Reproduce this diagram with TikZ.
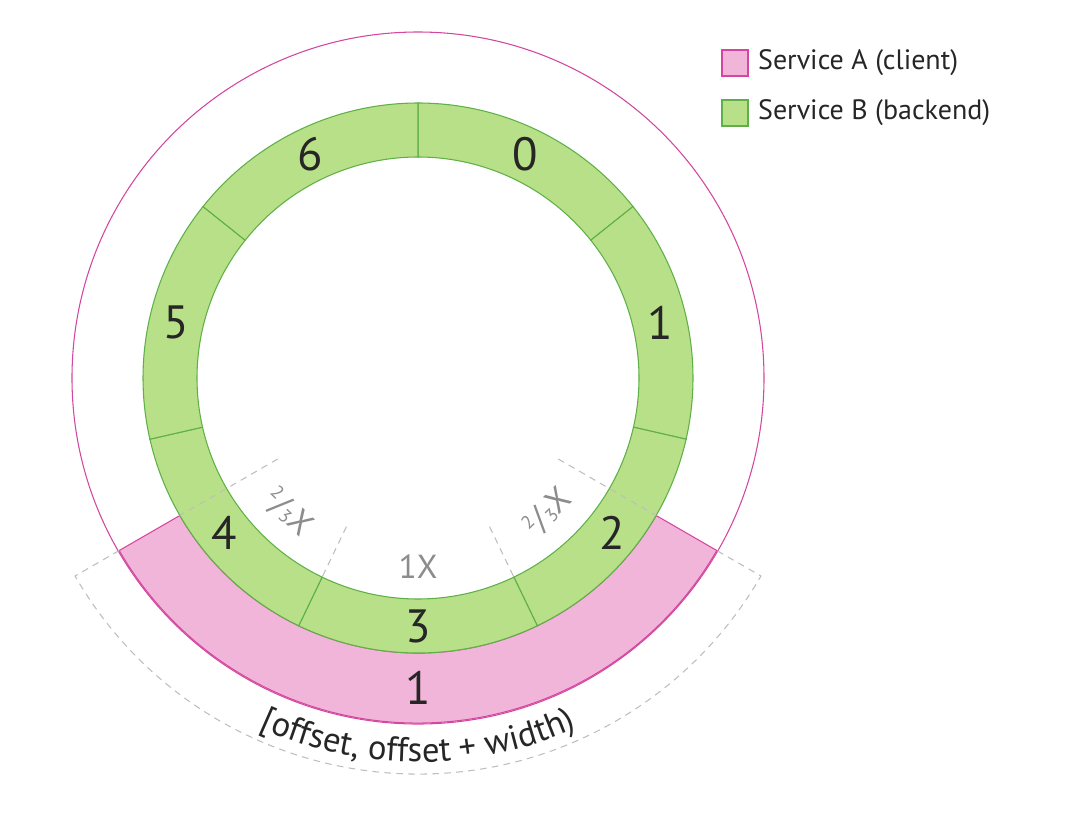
\documentclass[tikz,border=0pt]{standalone}
\usepackage{fontspec}
\setmainfont{PT Sans}
\usetikzlibrary{positioning,decorations.text}
\definecolor{clientfill}{HTML}{F2B5DA}
\definecolor{clientline}{HTML}{D4479F}
\definecolor{backendfill}{HTML}{B8E088}
\definecolor{backendline}{HTML}{5FB048}
\definecolor{guideline}{HTML}{BEBEBE}
\definecolor{ratiogray}{HTML}{8C8C8C}
\newcommand{\twothirds}{\raisebox{.6ex}{\fontsize{14}{14}\selectfont 2}/\raisebox{-.1ex}{\fontsize{14}{14}\selectfont 3}}

\begin{document}
\begin{tikzpicture}[x=0.75pt,y=0.75pt,
  ring/.style={fill=backendfill,draw=backendline,line width=0.8pt},
  band/.style={fill=clientfill,draw=clientline,line width=0.8pt},
  guide/.style={draw=guideline,line width=0.8pt,dash pattern=on 5pt off 4pt},
  digit/.style={font=\fontsize{35}{40}\selectfont,text=black!85},
  ratio/.style={font=\fontsize{25}{28}\selectfont,text=ratiogray},
  keybox/.style={minimum size=19.5pt,inner sep=0pt,line width=0.8pt},
  keytext/.style={font=\fontsize{21}{24}\selectfont,text=black!85,inner sep=0pt}]

\useasboundingbox (-418,378) rectangle (662,-441);

\draw[clientline,line width=0.8pt] (0,0) circle (346);
\draw[band] (-150:275) arc[start angle=-150,end angle=-30,radius=275] -- (-30:345) arc[start angle=-30,end angle=-150,radius=345] -- cycle;
\node[digit] (slot) at (-90:310) {1};

\foreach \i in {0,...,6}{
  \pgfmathsetmacro{\a}{90-\i*360/7}
  \pgfmathsetmacro{\b}{\a-360/7}
  \draw[ring] (\a:221) -- (\a:275) arc[start angle=\a,end angle=\b,radius=275] -- (\b:221) arc[start angle=\b,end angle=\a,radius=221] -- cycle;
  \node[digit] (seg\i) at ({(\a+\b)/2}:248) {\i};
}

\draw[guide] (-150:162) -- (-150:275);
\draw[guide] (-30:162) -- (-30:275);
\draw[guide] (-115.71:165) -- (-115.71:221);
\draw[guide] (-64.29:165) -- (-64.29:221);
\draw[guide] (-150:345) -- (-150:396) arc[start angle=-150,end angle=-30,radius=396] -- (-30:345);

\node[ratio,rotate=-44] (ratioL) at (-134:187) {\twothirds X};
\node[ratio] (ratioM) at (-90:189) {1X};
\node[ratio,rotate=44] (ratioR) at (-46:187) {\twothirds X};

\path[decorate,decoration={text along path,text align=center,
  text={|\fontsize{26}{30}\selectfont\color{black!85}|[offset, offset + width)}}]
  (-125:384) arc[start angle=-125,end angle=-55,radius=384];

\node[keybox,fill=clientfill,draw=clientline] (keyA) at (317,315) {};
\node[keytext,right=7pt of keyA] (labelA) {Service A (client)};
\node[keybox,fill=backendfill,draw=backendline] (keyB) at (317,265) {};
\node[keytext,right=7pt of keyB] (labelB) {Service B (backend)};
\end{tikzpicture}
\end{document}
